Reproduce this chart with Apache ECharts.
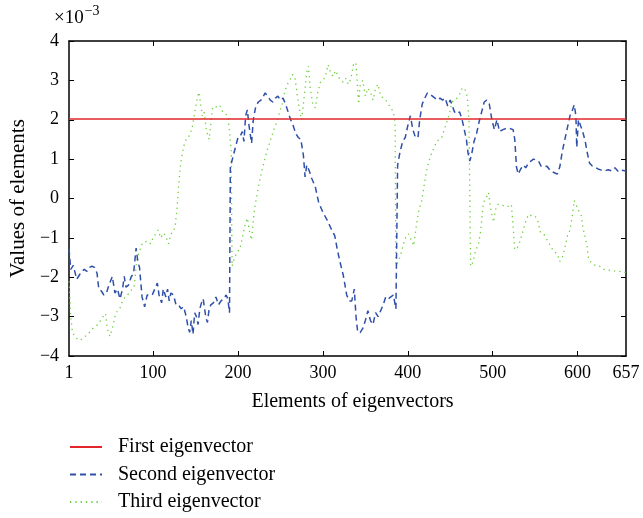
<!DOCTYPE html>
<html>
<head>
<meta charset="utf-8">
<script src="https://cdn.jsdelivr.net/npm/echarts@6/dist/echarts.min.js"></script>
<style>html,body{margin:0;padding:0;background:#fff}#c{width:643px;height:518px}</style>
</head>
<body>
<div id="c"></div>
<script>
const xTickLabels = [1, 100, 200, 300, 400, 500, 600, 657];
const xTickMarks = [100, 200, 300, 400, 500, 600];
const seriesNames = ['First eigenvector', 'Second eigenvector', 'Third eigenvector'];

const firstX = [1, 657];
const firstY = [2.02, 2.02];

const secondX = [1,3,6,10,13,16,19,22,25,28,31,34,36,39,42,45,48,52,55,58,61,64,66,68,71,74,77,80,82,84,87,90,93,96,99,102,105,107,110,112,115,117,119,121,124,127,130,133,136,139,141,143,145,147,149,151,153,155,157,159,162,164,166,168,171,174,177,180,183,186,188,190,191,194,197,200,203,205,207,209,211,213,216,218,221,224,227,230,232,235,238,241,244,247,250,253,256,259,262,265,268,271,274,277,279,281,284,287,291,295,300,305,310,314,317,320,324,328,331,334,337,339,341,344,347,350,353,356,359,362,365,368,371,374,377,380,383,386,388,391,394,397,400,403,406,409,412,414,417,420,423,426,429,432,435,438,441,444,447,450,452,455,458,461,464,466,469,471,473,475,478,481,484,487,490,493,496,499,502,505,508,512,516,520,524,526,528,530,533,536,539,542,545,548,551,554,557,560,564,568,572,576,579,582,585,588,591,594,596,598,599,601,603,606,609,611,614,617,620,624,628,632,636,640,644,648,652,657];
const secondY = [-1.28,-1.8,-1.7,-2.05,-1.95,-1.85,-1.8,-1.85,-1.75,-1.72,-1.75,-1.9,-2.3,-2.35,-2.45,-2.4,-2.2,-1.98,-2.4,-2.3,-2.55,-2.3,-1.98,-2.25,-2.2,-2.0,-1.9,-1.26,-1.6,-1.75,-2.5,-2.75,-2.45,-2.45,-2.45,-2.3,-2.15,-2.45,-2.65,-2.3,-2.5,-2.3,-2.6,-2.4,-2.45,-2.7,-2.7,-2.8,-2.75,-3.0,-3.25,-3.4,-3.1,-3.45,-2.9,-3.0,-3.2,-2.8,-2.65,-2.55,-3.0,-3.15,-2.8,-2.7,-2.65,-2.5,-2.7,-2.6,-2.55,-2.45,-2.55,-2.9,0.8,1.05,1.3,1.55,1.6,1.7,1.45,2.1,2.25,1.85,1.4,2.0,2.35,2.45,2.5,2.6,2.68,2.6,2.5,2.45,2.55,2.6,2.5,2.55,2.4,2.2,2.0,1.85,1.65,1.55,1.5,1.1,0.55,0.85,0.7,0.5,0.3,-0.1,-0.35,-0.55,-0.78,-0.95,-1.3,-1.6,-1.95,-2.45,-2.6,-2.6,-2.3,-3.0,-3.4,-3.4,-3.3,-3.1,-2.85,-3.1,-3.2,-2.9,-3.0,-2.85,-2.7,-2.5,-2.55,-2.5,-2.45,-2.8,0.85,1.2,1.45,1.55,1.85,2.1,1.75,1.55,1.55,2.0,2.4,2.55,2.68,2.65,2.6,2.55,2.5,2.55,2.5,2.55,2.35,2.5,2.55,2.2,2.15,2.2,2.0,1.8,1.5,1.15,0.95,1.1,1.45,1.65,1.95,2.2,2.45,2.5,2.4,2.0,1.75,2.0,1.7,1.75,1.78,1.78,1.75,1.5,0.8,0.62,0.75,0.85,0.78,0.9,0.95,1.0,0.98,0.95,0.82,0.8,0.82,0.7,0.66,0.62,0.8,1.2,1.5,1.8,2.1,2.25,2.38,2.1,1.3,2.0,1.95,1.7,1.45,1.2,0.9,0.83,0.8,0.75,0.72,0.7,0.73,0.7,0.78,0.68,0.72,0.7];

const thirdX = [1,3,5,8,11,14,17,20,23,26,29,32,35,38,41,44,46,49,52,55,58,61,64,67,70,73,76,78,80,82,84,86,88,91,94,97,100,103,106,109,112,115,118,121,124,126,128,130,132,134,137,140,143,146,148,150,152,154,156,158,160,163,166,168,170,173,176,179,182,185,188,190,192,193,196,199,202,205,208,211,214,216,218,220,222,225,228,231,234,237,240,243,246,249,252,255,258,261,264,267,270,273,275,278,281,283,285,288,291,294,297,300,303,306,309,312,315,318,321,324,327,330,333,336,339,342,344,347,350,353,356,359,362,365,368,371,374,377,380,383,385,386,389,392,395,398,401,404,407,410,413,416,419,422,425,428,431,434,437,440,443,446,449,452,455,458,461,464,467,470,472,474,477,480,483,486,489,492,495,498,501,503,506,510,514,518,522,524,526,529,532,536,540,543,546,550,553,556,560,564,568,572,576,579,582,585,588,591,594,596,598,601,604,606,608,611,613,617,621,626,631,637,643,649,657];
const thirdY = [-2.1,-3.0,-3.4,-3.5,-3.58,-3.6,-3.55,-3.5,-3.45,-3.38,-3.3,-3.25,-3.2,-3.1,-3.0,-2.92,-3.3,-3.5,-3.3,-3.0,-2.85,-2.78,-2.6,-2.5,-2.45,-2.35,-2.3,-2.2,-1.7,-1.45,-1.35,-1.2,-1.12,-1.1,-1.08,-1.15,-1.0,-0.9,-0.8,-1.0,-0.88,-0.95,-1.15,-0.9,-0.85,-0.7,-0.3,0.3,0.8,1.1,1.4,1.55,1.6,1.8,2.05,2.3,2.55,2.7,2.4,2.1,2.2,1.7,1.5,1.9,2.3,2.35,2.3,2.35,2.2,2.15,2.1,1.7,1.2,-1.72,-1.5,-1.35,-1.3,-1.0,-0.7,-0.5,-0.9,-1.05,-0.55,-0.2,0.05,0.4,0.7,0.95,1.2,1.4,1.6,1.8,1.95,2.2,2.4,2.7,2.9,3.0,3.15,3.1,2.6,2.2,2.0,2.6,3.2,3.36,2.8,2.4,2.3,2.7,2.95,3.0,3.1,3.4,3.2,3.1,3.25,3.1,3.0,2.95,3.05,2.9,3.05,3.4,3.45,2.4,2.9,3.0,2.6,2.8,2.7,2.5,2.8,2.9,2.6,2.55,2.5,2.4,2.3,2.2,1.9,-1.7,-1.6,-1.4,-1.15,-0.95,-0.9,-1.05,-1.2,-0.7,-0.3,-0.1,0.3,0.7,0.95,1.15,1.3,1.45,1.5,1.55,1.75,1.95,2.15,2.45,2.5,2.55,2.65,2.8,2.8,2.6,2.0,-1.72,-1.6,-1.3,-1.2,-0.8,-0.1,0.0,0.15,-0.3,-0.6,-0.3,-0.15,-0.15,-0.2,-0.2,-0.15,-0.7,-1.3,-1.25,-1.1,-0.8,-0.5,-0.4,-0.45,-0.45,-0.55,-0.85,-0.9,-1.05,-1.2,-1.35,-1.4,-1.6,-1.5,-1.25,-0.95,-0.8,-0.4,-0.05,-0.15,-0.3,-0.4,-0.7,-0.9,-1.2,-1.55,-1.65,-1.7,-1.72,-1.8,-1.82,-1.84,-1.85,-1.88];

const zip = (xs, ys) => xs.map((x, i) => [x, ys[i]]);
const FONT = 'Liberation Serif';
const chart = echarts.init(document.getElementById('c'), null, {renderer: 'canvas'});

const frameLine = {show: true, onZero: false, lineStyle: {color: '#000', width: 1.5}};
const tickStyle = {inside: true, length: 5, lineStyle: {color: '#000', width: 1}};
const fmtY = v => String(v).replace('-', '\u2212');

chart.setOption({
  animation: false,
  backgroundColor: '#fff',
  grid: {left: 68, right: 17, top: 41, bottom: 162, containLabel: false},
  textStyle: {fontFamily: FONT},
  xAxis: [
    {type: 'value', position: 'bottom', min: 1, max: 657,
     axisLine: frameLine,
     axisTick: Object.assign({customValues: xTickMarks}, tickStyle),
     axisLabel: {customValues: xTickLabels, color: '#000', fontSize: 18, fontFamily: FONT, margin: 8},
     splitLine: {show: false},
     name: 'Elements of eigenvectors', nameLocation: 'middle', nameGap: 36,
     nameTextStyle: {color: '#000', fontSize: 20, fontFamily: FONT, padding: [0, 0, 0, 10]}},
    {type: 'value', position: 'top', min: 1, max: 657,
     axisLine: frameLine,
     axisTick: Object.assign({customValues: xTickMarks}, tickStyle),
     axisLabel: {show: false}, splitLine: {show: false}}
  ],
  yAxis: [
    {type: 'value', position: 'left', min: -4, max: 4, interval: 1,
     axisLine: frameLine, axisTick: tickStyle,
     axisLabel: {color: '#000', fontSize: 18, fontFamily: FONT, margin: 10, formatter: fmtY},
     splitLine: {show: false},
     name: 'Values of elements', nameLocation: 'middle', nameGap: 31, nameRotate: 90,
     nameTextStyle: {color: '#000', fontSize: 21, fontFamily: FONT}},
    {type: 'value', position: 'right', min: -4, max: 4, interval: 1,
     axisLine: frameLine, axisTick: tickStyle,
     axisLabel: {show: false}, splitLine: {show: false}}
  ],
  legend: {
    orient: 'vertical', left: 69, top: 437, height: 81, padding: 0,
    itemWidth: 32, itemHeight: 14, itemGap: 7.5,
    itemStyle: {opacity: 0},
    textStyle: {color: '#000', fontSize: 20, fontFamily: FONT, padding: [0, 0, 0, 11]},
    data: seriesNames
  },
  graphic: [{
    type: 'text', left: 54, top: 4,
    style: {
      text: '{a|\u00d710}{b|\u22123}',
      rich: {
        a: {fontSize: 19, fontFamily: FONT, fill: '#000', verticalAlign: 'bottom', lineHeight: 24},
        b: {fontSize: 14, fontFamily: FONT, fill: '#000', verticalAlign: 'top', lineHeight: 24, padding: [0, 0, 8, 1]}
      }
    }
  }],
  series: [
    {name: seriesNames[0], type: 'line', data: zip(firstX, firstY), showSymbol: false, symbol: 'none',
     lineStyle: {color: '#e2262a', width: 1.4}, itemStyle: {color: '#e2262a'}, z: 3},
    {name: seriesNames[1], type: 'line', data: zip(secondX, secondY), showSymbol: false, symbol: 'none',
     lineStyle: {color: '#2f50a8', width: 1.5, type: [6, 4]}, itemStyle: {color: '#2f50a8'}, z: 2},
    {name: seriesNames[2], type: 'line', data: zip(thirdX, thirdY), showSymbol: false, symbol: 'none',
     lineStyle: {color: '#6ccf3a', width: 1.3, type: [1.3, 4]}, itemStyle: {color: '#6ccf3a'}, z: 1}
  ]
});
</script>
</body>
</html>
